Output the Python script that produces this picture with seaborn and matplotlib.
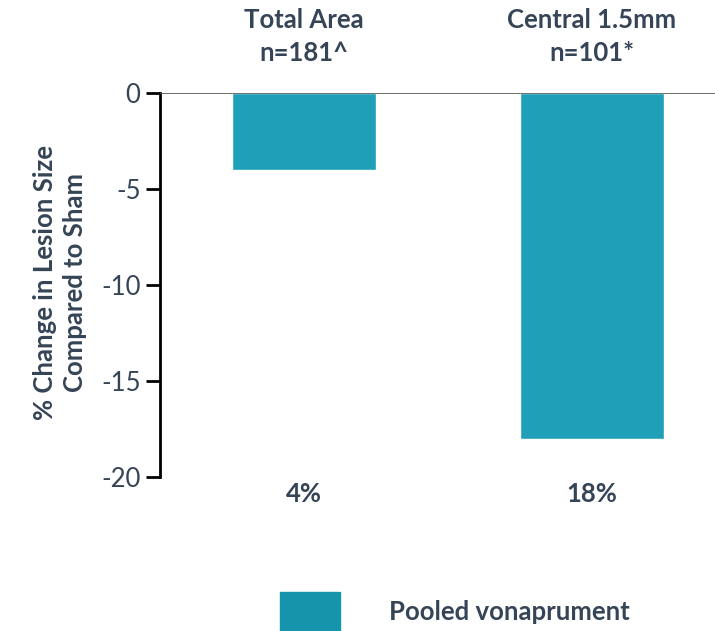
import matplotlib
matplotlib.use("Agg")
import matplotlib.pyplot as plt
import matplotlib.patches as mpatches
import seaborn as sns
import pandas as pd

# Data
categories = ["Total Area\nn=181^", "Central 1.5mm\nn=101*"]
values = [-4, -18]
value_labels = ["4%", "18%"]
series_name = "Pooled vonaprument"
y_ticks = [0, -5, -10, -15, -20]

bar_color = "#1fa0b8"
legend_color = "#1694ac"
text_color = "#354456"

sns.set_theme(style="white")
plt.rcParams["font.family"] = ["Lato", "DejaVu Sans"]

df = pd.DataFrame({"category": categories, "value": values})

fig = plt.figure(figsize=(7.15, 6.31), dpi=100)
ax = fig.add_axes([160 / 715, 1 - 477 / 631, (715 - 160) / 715, (477 - 93) / 631])

sns.barplot(data=df, x="category", y="value", order=categories,
            color=bar_color, saturation=1, width=0.5, ax=ax)

ax.set_ylim(-20, 0)
ax.set_xlim(-0.5, 1.427)
ax.set_yticks(y_ticks)
ax.set_yticklabels([str(t) for t in y_ticks], fontsize=18.5, color=text_color)
ax.tick_params(axis="y", direction="out", length=10, width=2, color="black",
               left=True, pad=4)
ax.set_xticks([])
ax.set_xlabel("")
ax.set_ylabel("")

for side in ["right", "bottom", "top"]:
    ax.spines[side].set_visible(False)
ax.spines["left"].set_color("black")
ax.spines["left"].set_linewidth(2)
ax.axhline(0, color="#555555", lw=1.2, zorder=5)

# Y-axis title, two lines
fig.text(60 / 715, 1 - 283 / 631, "% Change in Lesion Size\nCompared to Sham",
         rotation=90, ha="center", va="center", fontsize=18.5,
         color=text_color, fontweight="bold", linespacing=1.3)

# Category headings above the plot
for i, cat in enumerate(categories):
    line1, line2 = cat.split("\n")
    xf = fig.transFigure.inverted().transform(ax.transData.transform((i, 0)))[0]
    fig.text(xf, 1 - 20 / 631, line1, ha="center", va="center", fontsize=18.5,
             color=text_color, fontweight="bold")
    fig.text(xf, 1 - 53 / 631, line2, ha="center", va="center", fontsize=18.5,
             color=text_color, fontweight="bold")

# Reduction labels below the bars
for i, lab in enumerate(value_labels):
    xf = fig.transFigure.inverted().transform(ax.transData.transform((i, 0)))[0]
    fig.text(xf, 1 - 494 / 631, lab, ha="center", va="center", fontsize=18.5,
             color=text_color, fontweight="bold")

# Legend
fig.patches.append(mpatches.Rectangle((280 / 715, 0), 60 / 715, 39 / 631,
                                      transform=fig.transFigure,
                                      color=legend_color))
fig.text(389 / 715, 1 - 612 / 631, series_name, fontsize=18.5, color=text_color,
         fontweight="bold", va="center", ha="left")

fig.savefig("out.png", dpi=100)
